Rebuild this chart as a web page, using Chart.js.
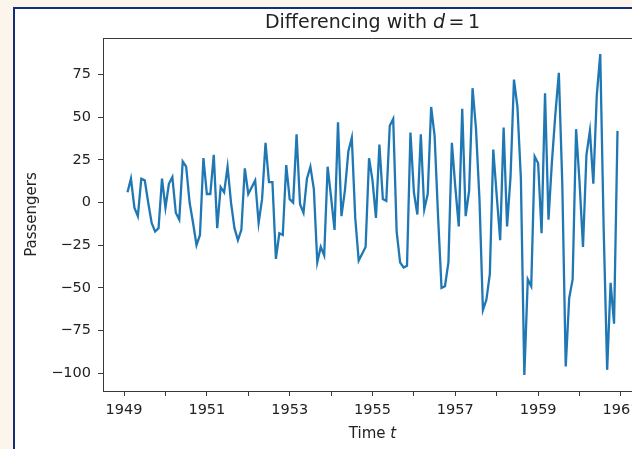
<!DOCTYPE html>
<html>
<head>
<meta charset="utf-8">
<script src="https://cdn.jsdelivr.net/npm/chart.js@4.4.1/dist/chart.umd.min.js"></script>
<style>
  html, body { margin: 0; padding: 0; width: 632px; height: 449px; overflow: hidden; background: #fcf5eb; }
  #frame { position: absolute; left: 13px; top: 7px; width: 700px; height: 500px; background: #ffffff;
           border-left: 2px solid #12307a; border-top: 2px solid #12307a; }
  #wrap { position: absolute; left: 0; top: 0; width: 660px; height: 449px; }
</style>
</head>
<body>
<div id="frame"></div>
<div id="wrap"><canvas id="c" width="660" height="449"></canvas></div>
<script>
// First differences of monthly airline passengers (thousands), one array per year.
// 1949 starts in February because differencing drops the first month.
const diff1949 = [6, 14, -3, -8, 14, 13, 0, -12, -17, -15, 14];
const diff1950 = [-3, 11, 15, -6, -10, 24, 21, 0, -12, -25, -19, 26];
const diff1951 = [5, 5, 28, -15, 9, 6, 21, 0, -15, -22, -16, 20];
const diff1952 = [5, 9, 13, -12, 2, 35, 12, 12, -33, -18, -19, 22];
const diff1953 = [2, 0, 40, -1, -6, 14, 21, 8, -35, -26, -31, 21];
const diff1954 = [3, -16, 47, -8, 7, 30, 38, -9, -34, -30, -26, 26];
const diff1955 = [13, -9, 34, 2, 1, 45, 49, -17, -35, -38, -37, 41];
const diff1956 = [6, -7, 40, -4, 5, 56, 39, -8, -50, -49, -35, 35];
const diff1957 = [9, -14, 55, -8, 7, 67, 43, 2, -63, -57, -42, 31];
const diff1958 = [4, -22, 44, -14, 15, 72, 56, 14, -101, -45, -49, 27];
const diff1959 = [23, -18, 64, -10, 24, 52, 76, 11, -96, -56, -45, 43];
const diff1960 = [12, -26, 28, 42, 11, 63, 87, -16, -98, -47, -71, 42];

const years = [1949, 1950, 1951, 1952, 1953, 1954, 1955, 1956, 1957, 1958, 1959, 1960];
const yearlyDiffs = [diff1949, diff1950, diff1951, diff1952, diff1953, diff1954,
                     diff1955, diff1956, diff1957, diff1958, diff1959, diff1960];

const xTickYears = [1949, 1950, 1951, 1952, 1953, 1954, 1955, 1956, 1957, 1958, 1959, 1960, 1961];
const xLabelYears = [1949, 1951, 1953, 1955, 1957, 1959, 1961];
const yTickValues = [-100, -75, -50, -25, 0, 25, 50, 75];

// Each month sits at year + (month - 1) / 12 on the time axis.
const points = [];
years.forEach((yr, i) => {
  const vals = yearlyDiffs[i];
  const firstMonth = 12 - vals.length; // 0-based month of the first value
  vals.forEach((v, j) => points.push({ x: yr + (firstMonth + j) / 12, y: v }));
});

const xs = points.map(p => p.x), ys = points.map(p => p.y);
const xMin = Math.min(...xs), xMax = Math.max(...xs);
const yMin = Math.min(...ys), yMax = Math.max(...ys);
const xPad = (xMax - xMin) * 0.05, yPad = (yMax - yMin) * 0.05;

const FONT = '"DejaVu Sans", Verdana, sans-serif';
const INK = '#222222';
const SPINE = '#3a3a3a';

function drawRuns(ctx, runs, cx, cy) {
  let total = 0;
  runs.forEach(r => { ctx.font = r.f; r.w = ctx.measureText(r.t).width + (r.gap || 0) * 2; total += r.w; });
  let x = cx - total / 2;
  ctx.textAlign = 'left';
  ctx.textBaseline = 'middle';
  runs.forEach(r => { ctx.font = r.f; ctx.fillText(r.t, x + (r.gap || 0), cy); x += r.w; });
}

const decorations = {
  id: 'decorations',
  afterDraw(chart) {
    const { ctx, chartArea: a } = chart;
    ctx.save();
    // top spine
    ctx.strokeStyle = SPINE;
    ctx.lineWidth = 1;
    ctx.beginPath();
    ctx.moveTo(a.left, a.top + 0.5);
    ctx.lineTo(a.right, a.top + 0.5);
    ctx.stroke();

    ctx.fillStyle = INK;
    const cx = (a.left + a.right) / 2;
    // title
    drawRuns(ctx, [
      { t: 'Differencing with ', f: '19px ' + FONT },
      { t: 'd', f: 'italic 19px ' + FONT },
      { t: '=', f: '19px ' + FONT, gap: 3.5 },
      { t: '1', f: '19px ' + FONT }
    ], cx, 23);
    // x-axis label
    drawRuns(ctx, [
      { t: 'Time ', f: '15px ' + FONT },
      { t: 't', f: 'italic 15px ' + FONT }
    ], cx, 434.5);
    // y-axis label
    ctx.translate(32, (a.top + a.bottom) / 2);
    ctx.rotate(-Math.PI / 2);
    ctx.font = '15px ' + FONT;
    ctx.textAlign = 'center';
    ctx.textBaseline = 'middle';
    ctx.fillText('Passengers', 0, 0);
    ctx.restore();
  }
};

new Chart(document.getElementById('c'), {
  type: 'line',
  data: {
    datasets: [{
      data: points,
      borderColor: '#1f77b4',
      borderWidth: 2.3,
      pointRadius: 0,
      tension: 0,
      fill: false
    }]
  },
  options: {
    responsive: false,
    animation: false,
    layout: { padding: { left: 0, top: 38, right: 18, bottom: 0 } },
    plugins: { legend: { display: false }, title: { display: false }, tooltip: { enabled: false } },
    scales: {
      x: {
        type: 'linear',
        min: xMin - xPad,
        max: xMax + xPad,
        afterBuildTicks: s => { s.ticks = xTickYears.map(v => ({ value: v })); },
        afterFit: s => { s.height = 58; },
        ticks: {
          autoSkip: false,
          maxRotation: 0,
          padding: 5.5,
          color: INK,
          font: { family: FONT, size: 14.5 },
          callback: v => (xLabelYears.includes(v) ? String(v) : '')
        },
        grid: { drawOnChartArea: false, drawTicks: true, tickLength: 5, color: SPINE, lineWidth: 1 },
        border: { display: true, color: SPINE, width: 1 }
      },
      y: {
        type: 'linear',
        min: yMin - yPad,
        max: yMax + yPad,
        afterBuildTicks: s => { s.ticks = yTickValues.map(v => ({ value: v })); },
        afterFit: s => { s.width = 103; },
        ticks: {
          padding: 7,
          color: INK,
          font: { family: FONT, size: 14.5 },
          callback: v => (v < 0 ? '\u2212' + Math.abs(v) : String(v))
        },
        grid: { drawOnChartArea: false, drawTicks: true, tickLength: 5, color: SPINE, lineWidth: 1 },
        border: { display: true, color: SPINE, width: 1 }
      }
    }
  },
  plugins: [decorations]
});
</script>
</body>
</html>
